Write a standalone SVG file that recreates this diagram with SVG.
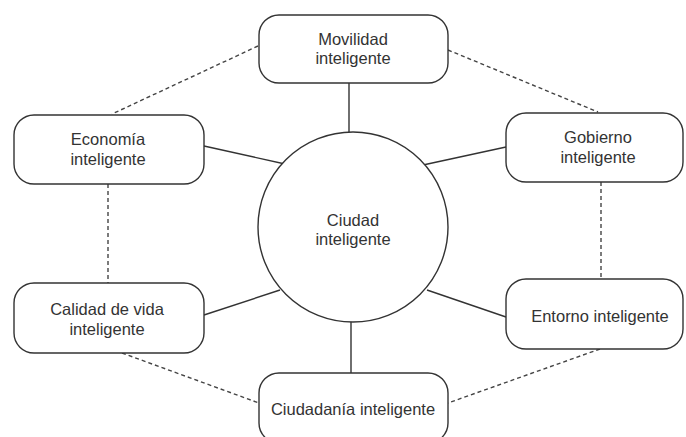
<svg xmlns="http://www.w3.org/2000/svg" width="686" height="437" viewBox="0 0 686 437">
<style>
.box{fill:#fff;stroke:#333;stroke-width:1.4}
.solid{stroke:#333;stroke-width:1.4;fill:none}
.dash{stroke:#444;stroke-width:1.4;fill:none;stroke-dasharray:4 3}
text{font-family:"Liberation Sans",Arial,sans-serif;font-size:16.5px;fill:#333;text-anchor:middle}
</style>
<rect width="686" height="437" fill="#fff"/>
<g id="connectors">
<line class="solid" x1="349" y1="83" x2="349" y2="132"/>
<line class="solid" x1="204" y1="146" x2="285" y2="164"/>
<line class="solid" x1="423" y1="165" x2="506" y2="147"/>
<line class="solid" x1="204" y1="315" x2="280" y2="290"/>
<line class="solid" x1="427" y1="290" x2="506" y2="317"/>
<line class="solid" x1="351" y1="322" x2="351" y2="373"/>
<line class="dash" x1="258" y1="46" x2="112" y2="114"/>
<line class="dash" x1="448" y1="50" x2="598" y2="112"/>
<line class="dash" x1="108" y1="184" x2="108" y2="283"/>
<line class="dash" x1="601" y1="182" x2="601" y2="279"/>
<line class="dash" x1="122" y1="353" x2="259" y2="403"/>
<line class="dash" x1="600" y1="349" x2="448" y2="403"/>
</g>
<g id="ciudad">
<circle class="box" cx="353" cy="227" r="95"/>
<text x="353" y="226">Ciudad</text>
<text x="353" y="245">inteligente</text>
</g>
<g id="movilidad">
<rect class="box" x="259" y="15" width="189" height="68" rx="20"/>
<text x="353" y="45">Movilidad</text>
<text x="353" y="64">inteligente</text>
</g>
<g id="economia">
<rect class="box" x="14" y="115" width="190" height="69" rx="20"/>
<text x="108" y="145">Economía</text>
<text x="108" y="165">inteligente</text>
</g>
<g id="gobierno">
<rect class="box" x="506" y="113" width="177" height="69" rx="20"/>
<text x="598" y="143">Gobierno</text>
<text x="598" y="163">inteligente</text>
</g>
<g id="calidad">
<rect class="box" x="14" y="283" width="190" height="70" rx="20"/>
<text x="107" y="315">Calidad de vida</text>
<text x="107" y="335">inteligente</text>
</g>
<g id="entorno">
<rect class="box" x="506" y="279" width="177" height="70" rx="20"/>
<text x="600" y="322">Entorno inteligente</text>
</g>
<g id="ciudadania">
<rect class="box" x="259" y="373" width="189" height="70" rx="20"/>
<text x="353" y="415">Ciudadanía inteligente</text>
</g>
</svg>
